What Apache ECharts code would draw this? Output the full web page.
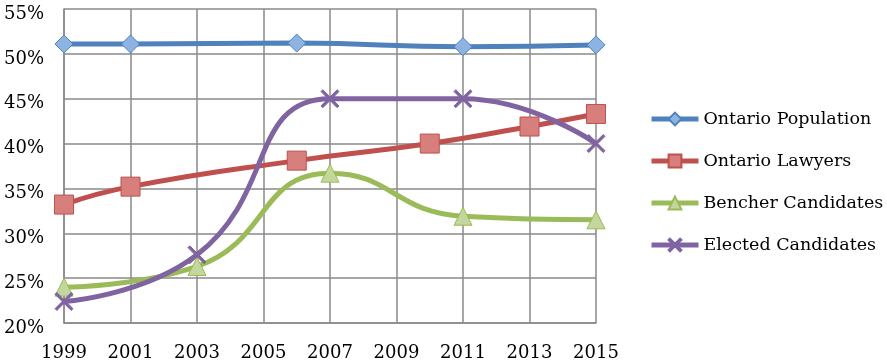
<!DOCTYPE html>
<html>
<head>
<meta charset="utf-8">
<script src="https://cdn.jsdelivr.net/npm/echarts@6/dist/echarts.min.js"></script>
<style>
  html, body { margin: 0; padding: 0; background: #fff; }
  #chart { width: 887px; height: 362px; }
</style>
</head>
<body>
<div id="chart"></div>
<script>
// years are stored as-is; the axis runs on offsets from the first year
const baseYear = 1999
const yTicks = [20, 25, 30, 35, 40, 45, 50, 55]

const popYears = [1999, 2001, 2006, 2011, 2015]
const popValues = [51.1, 51.1, 51.2, 50.8, 51.0]

const lawYears = [1999, 2001, 2006, 2010, 2013, 2015]
const lawValues = [33.2, 35.2, 38.1, 40.0, 41.9, 43.3]

const benchYears = [1999, 2003, 2007, 2011, 2015]
const benchValues = [24.0, 26.3, 36.7, 31.9, 31.5]

const electYears = [1999, 2003, 2007, 2011, 2015]
const electValues = [22.4, 27.6, 45.0, 45.0, 40.0]

const pairs = (xs, ys) => xs.map((x, i) => [x - baseYear, ys[i]])

const crossPath = 'path://M0,1 L1,0 L5,4 L9,0 L10,1 L6,5 L10,9 L9,10 L5,6 L1,10 L0,9 L4,5 Z'
const font = 'DejaVu Serif'

const mkSeries = (name, data, color, symbol, size, fill) => ({
  name: name,
  type: 'line',
  smooth: 0.5,
  data: data,
  symbol: symbol,
  symbolSize: size,
  showAllSymbol: true,
  lineStyle: { color: color, width: 5 },
  itemStyle: { color: fill, borderColor: color, borderWidth: 1 },
  z: 3
})

const chart = echarts.init(document.getElementById('chart'))
chart.setOption({
  animation: false,
  backgroundColor: '#fff',
  grid: { left: 64, right: 291, top: 9, bottom: 39 },
  xAxis: {
    type: 'value',
    min: 0,
    max: 16,
    interval: 2,
    axisLine: { show: true, lineStyle: { color: '#8a8a8a', width: 1.5 } },
    axisTick: { show: false },
    splitLine: { show: true, lineStyle: { color: '#8a8a8a', width: 1.5 } },
    axisLabel: {
      color: '#000', fontFamily: font, fontSize: 18, margin: 21,
      formatter: v => String(v + baseYear)
    }
  },
  yAxis: {
    type: 'value',
    min: yTicks[0],
    max: yTicks[yTicks.length - 1],
    interval: 5,
    axisLine: { show: true, lineStyle: { color: '#8a8a8a', width: 1.5 } },
    axisTick: { show: false },
    splitLine: { show: true, lineStyle: { color: '#8a8a8a', width: 1.5 } },
    axisLabel: {
      color: '#000', fontFamily: font, fontSize: 18, margin: 20,
      verticalAlign: 'top', lineHeight: 10, formatter: '{value}%'
    }
  },
  legend: {
    orient: 'vertical',
    left: 644,
    top: 105,
    itemWidth: 47,
    itemHeight: 16,
    itemGap: 24,
    lineStyle: { width: 5 },
    textStyle: { color: '#000', fontFamily: font, fontSize: 17.5, lineHeight: 18 },
    data: ['Ontario Population', 'Ontario Lawyers', 'Bencher Candidates', 'Elected Candidates']
  },
  series: [
    mkSeries('Ontario Population', pairs(popYears, popValues), '#4f81bd', 'diamond', 18, '#8db3e2'),
    mkSeries('Ontario Lawyers', pairs(lawYears, lawValues), '#c0504d', 'rect', 19, '#d67f7c'),
    mkSeries('Bencher Candidates', pairs(benchYears, benchValues), '#9bbb59', 'triangle', 18, '#c3d69b'),
    mkSeries('Elected Candidates', pairs(electYears, electValues), '#8064a2', crossPath, 18, '#8064a2')
  ]
})

window.addEventListener('resize', function() {
  chart.resize()
})
</script>
</body>
</html>
